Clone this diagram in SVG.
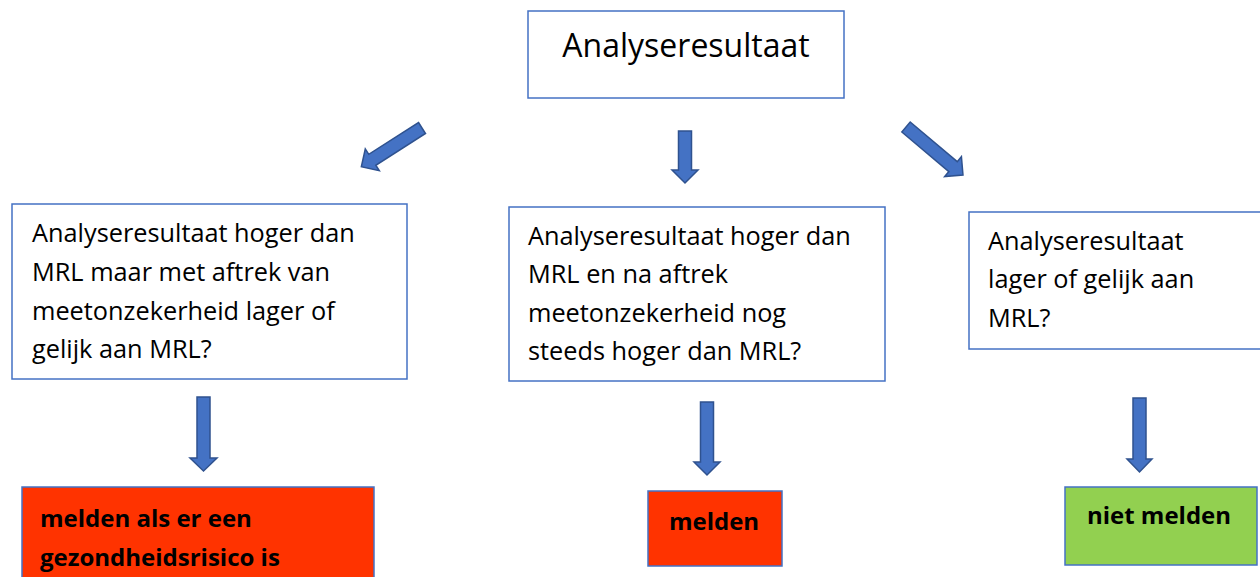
<svg xmlns="http://www.w3.org/2000/svg" width="1260" height="577" viewBox="0 0 1260 577">
<style>
.box{fill:#fff;stroke:#4472C4;stroke-width:1.5}
.t{font-family:"Open Sans","Liberation Sans",sans-serif;font-size:25.3px;fill:#000}
.h{font-family:"Open Sans","Liberation Sans",sans-serif;font-size:32px;fill:#000}
.b{font-family:"Open Sans","Liberation Sans",sans-serif;font-size:24px;font-weight:bold;fill:#000}
.arr{fill:#4472C4;stroke:#2F528F;stroke-width:1.5;stroke-linejoin:miter}
</style>
<rect width="1260" height="577" fill="#fff"/>
<g id="top">
<rect class="box" x="528" y="11" width="316" height="87"/>
<text x="686" y="57" class="h" text-anchor="middle">Analyseresultaat</text>
</g>
<g id="left">
<rect class="box" x="12" y="204" width="395" height="175"/>
<text class="t" x="32" y="242">Analyseresultaat hoger dan</text>
<text class="t" x="32" y="281">MRL maar met aftrek van</text>
<text class="t" x="32" y="320">meetonzekerheid lager of</text>
<text class="t" x="32" y="358">gelijk aan MRL?</text>
</g>
<g id="middle">
<rect class="box" x="509" y="207" width="376" height="174"/>
<text class="t" x="528" y="245">Analyseresultaat hoger dan</text>
<text class="t" x="528" y="283">MRL en na aftrek</text>
<text class="t" x="528" y="322">meetonzekerheid nog</text>
<text class="t" x="528" y="360">steeds hoger dan MRL?</text>
</g>
<g id="right">
<rect class="box" x="969" y="212" width="300" height="137"/>
<text class="t" x="988" y="250">Analyseresultaat</text>
<text class="t" x="988" y="288">lager of gelijk aan</text>
<text class="t" x="988" y="327">MRL?</text>
</g>
<g id="out-left">
<rect x="22" y="487" width="352" height="100" fill="#FF3300" stroke="#4472C4" stroke-width="1.5"/>
<text class="b" x="40" y="527">melden als er een</text>
<text class="b" x="40" y="566">gezondheidsrisico is</text>
</g>
<g id="out-middle">
<rect x="648" y="491" width="134" height="75" fill="#FF3300" stroke="#4472C4" stroke-width="1.5"/>
<text class="b" x="714" y="530" text-anchor="middle">melden</text>
</g>
<g id="out-right">
<rect x="1065" y="487" width="192" height="78" fill="#92D050" stroke="#4472C4" stroke-width="1.5"/>
<text class="b" x="1159" y="524" text-anchor="middle">niet melden</text>
</g>
<g id="connectors">
<path class="arr" transform="translate(422,128) rotate(57.4)" d="M-6.5,0 L6.5,0 L6.5,59 L13,59 L0,72 L-13,59 L-6.5,59 Z"/>
<path class="arr" transform="translate(685,131)" d="M-6.5,0 L6.5,0 L6.5,39 L13,39 L0,52 L-13,39 L-6.5,39 Z"/>
<path class="arr" transform="translate(906,127) rotate(-49.9)" d="M-6.5,0 L6.5,0 L6.5,61.5 L13,61.5 L0,74.5 L-13,61.5 L-6.5,61.5 Z"/>
<path class="arr" transform="translate(203.5,397)" d="M-6.5,0 L6.5,0 L6.5,61 L13.5,61 L0,74 L-13.5,61 L-6.5,61 Z"/>
<path class="arr" transform="translate(707,402)" d="M-6.5,0 L6.5,0 L6.5,60 L13,60 L0,73 L-13,60 L-6.5,60 Z"/>
<path class="arr" transform="translate(1139.5,398)" d="M-6.5,0 L6.5,0 L6.5,61 L12.5,61 L0,74 L-12.5,61 L-6.5,61 Z"/>
</g>
</svg>
